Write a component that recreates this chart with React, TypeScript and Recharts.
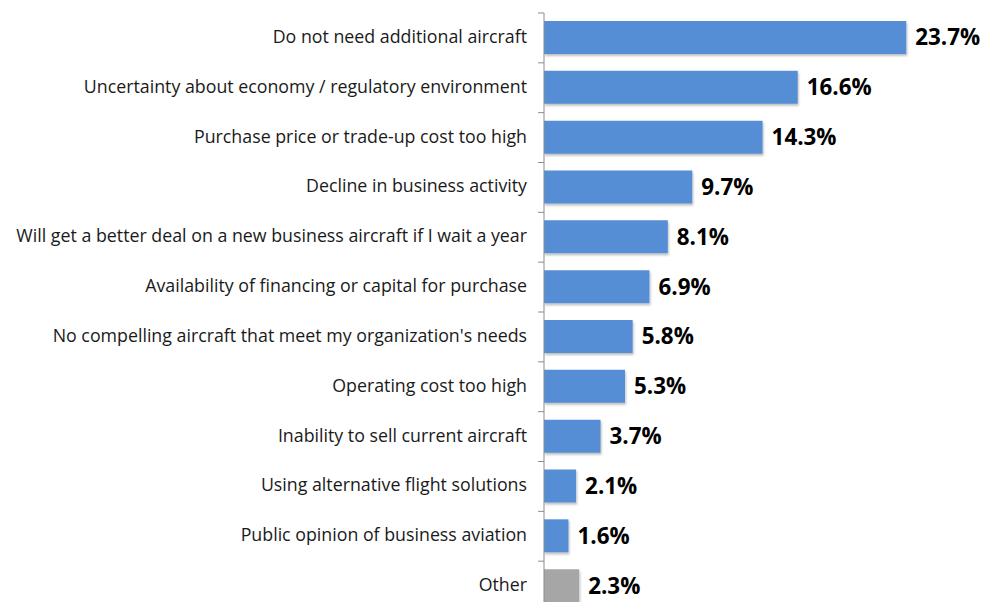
import React from "react";
import { BarChart, Bar, XAxis, YAxis, Cell, LabelList } from "recharts";

const categories = [
  "Do not need additional aircraft",
  "Uncertainty about economy / regulatory environment",
  "Purchase price or trade-up cost too high",
  "Decline in business activity",
  "Will get a better deal on a new business aircraft if I wait a year",
  "Availability of financing or capital for purchase",
  "No compelling aircraft that meet my organization's needs",
  "Operating cost too high",
  "Inability to sell current aircraft",
  "Using alternative flight solutions",
  "Public opinion of business aviation",
  "Other",
];
const values = [23.7, 16.6, 14.3, 9.7, 8.1, 6.9, 5.8, 5.3, 3.7, 2.1, 1.6, 2.3];
const isOther = [false, false, false, false, false, false, false, false, false, false, false, true];

const data = categories.map((c, i) => ({ name: c, value: values[i], other: isOther[i] }));

const FONT = "'Open Sans', Lato, sans-serif";
const CHART_H = 616;
const MARGIN_TOP = 13;
const MARGIN_BOTTOM = 5;
const BAND = (CHART_H - MARGIN_TOP - MARGIN_BOTTOM) / categories.length;

const CategoryTick = (props: any) => {
  const { x, y, payload } = props;
  return (
    <g>
      <line x1={x + 2} x2={x + 8} y1={y - BAND / 2} y2={y - BAND / 2} stroke="#8c8c8c" strokeWidth={1} />
      <text x={x - 9} y={y} dy={5} textAnchor="end" fill="#1a1a1a" fontSize={17.8} fontFamily={FONT}>
        {payload.value}
      </text>
    </g>
  );
};

export default function App() {
  return (
    <div style={{ position: "fixed", top: 0, left: 0, width: 993, height: 602, overflow: "hidden", background: "#fff" }}>
      <BarChart
        width={993}
        height={CHART_H}
        data={data}
        layout="vertical"
        margin={{ top: MARGIN_TOP, right: 21, bottom: MARGIN_BOTTOM, left: 0 }}
        barCategoryGap={8}
      >
        <defs>
          <filter id="shadow" x="-5%" y="-10%" width="115%" height="140%">
            <feDropShadow dx="1" dy="2" stdDeviation="1" floodColor="#000" floodOpacity="0.25" />
          </filter>
        </defs>
        <XAxis type="number" domain={[0, 28]} hide />
        <YAxis
          type="category"
          dataKey="name"
          width={544}
          axisLine={{ stroke: "#8c8c8c", strokeWidth: 1 }}
          tickLine={false}
          tick={<CategoryTick />}
          interval={0}
        />
        <Bar dataKey="value" barSize={33} isAnimationActive={false} filter="url(#shadow)">
          {data.map((d, i) => (
            <Cell key={i} fill={d.other ? "#a6a6a6" : "#558ed5"} />
          ))}
          <LabelList
            dataKey="value"
            position="right"
            offset={9}
            formatter={(v: any) => `${Number(v).toFixed(1)}%`}
            style={{ fontSize: 22.4, fontWeight: 700, fill: "#000", fontFamily: FONT }}
          />
        </Bar>
      </BarChart>
    </div>
  );
}
